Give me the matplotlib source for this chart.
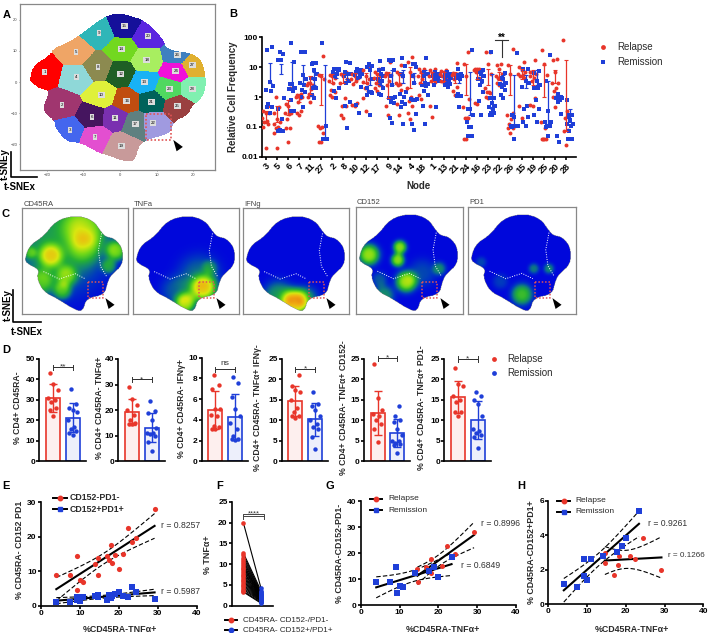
import numpy as np
import matplotlib
matplotlib.use('Agg')
import matplotlib.pyplot as plt
from matplotlib.colors import ListedColormap, LinearSegmentedColormap
from matplotlib.markers import MarkerStyle
from matplotlib.path import Path
from matplotlib.transforms import Affine2D

plt.rcParams['font.family'] = ['Liberation Sans', 'DejaVu Sans']

RED = '#e8352a'
BLUE = '#1f3fd8'
INK = '#2a2a2a'

W, H = 708, 633
fig = plt.figure(figsize=(W/100, H/100), dpi=100)

def ax_px(l, t, r, b):
    return fig.add_axes([l/W, 1-b/H, (r-l)/W, (b-t)/H])

# overlay in pixel coordinates for letters, scale bars, legends
top = fig.add_axes([0, 0, 1, 1], zorder=20)
top.set_xlim(0, W)
top.set_ylim(H, 0)
top.axis('off')

########################## panel A data
node_ids = list(range(1, 29))
node_x = [-20.6, -15.8, -13.7, -11.9, -12.1, -7.7, -6.8, -6.1, -5.7, -5.1, -1.4, 0.2, 6.6, 0.4,
          1.1, 1.8, 4.2, 7.3, 0.4, 7.6, 8.5, 9.0, 13.4, 15.2, 15.7, 15.7, 19.7, 19.7]
node_y = [3.3, -7.4, -15.4, 1.5, 9.5, -11.1, -17.5, 4.8, 15.6, -4.2, -11.5, 2.7, 0.0, 10.5,
          18.0, -6.0, -13.4, 6.9, -20.5, 14.8, -6.3, -13.1, -2.1, 3.4, -7.6, 8.6, 5.4, -2.2]
node_colors = ['#ff0000', '#a0366f', '#4466ee', '#8fd8d8', '#efa566', '#45155f', '#e34fd0',
               '#8c8a50', '#2fb6b8', '#dff03a', '#7a30b0', '#1f5f25', '#18b2f5', '#72d820',
               '#15109a', '#c04d10', '#5f8080', '#a8ee60', '#c89a9a', '#5a25e0', '#00625a',
               '#a09ae0', '#50d860', '#f010d8', '#9a4040', '#3f80c0', '#e0b030', '#80f0b0']
map_outline_x = [-24.7, -23.6, -19.1, -18.2, -13.2, -10.5, -4.5, -0.9, 3.6, 7.3, 11.8, 12.7, 20.5,
                 23.2, 23.5, 21.8, 19.5, 18.6, 14.5, 14.1, 7.3, 5.0, 4.1, 0.9, -3.6, -5.5, -10.9,
                 -14.5, -17.7, -17.7, -20.9, -20.9, -19.1, -21.8, -24.5]
map_outline_y = [1.2, 5.4, 8.6, 10.8, 13.4, 15.6, 20.9, 22.2, 21.1, 19.3, 14.0, 10.2, 9.2,
                 4.9, -2.6, -5.8, -7.9, -10.6, -12.7, -16.4, -18.6, -20.7, -25.5, -25.5, -23.4,
                 -23.0, -19.4, -19.4, -14.8, -12.7, -9.5, -7.4, -2.6, -2.3, 0.1]

########################## panel B data
nodes = [3, 5, 6, 7, 11, 27, 2, 8, 10, 12, 17, 9, 14, 4, 18, 1, 13, 21, 24, 16, 23, 22, 26, 15, 19, 25, 20, 28]
relapse_freq = [
    [.02, .1, .12, .14, .16, .2, .3, .3, .35, .5],
    [.02, .06, .08, .09, .1, .12, .14, .18, .3, .45, 1],
    [.03, .09, .09, .18, .28, .3, .3, .5, .6, 2],
    [.25, .3, .35, .7, .9, 1, 1, 1.1, 1.2, 1.3],
    [.7, 1, 1.2, 1.3, 1.9, 2.5, 2.5, 3, 3, 4.5],
    [.03, .03, .06, .09, .1, .11, 4, 5, 5.5, 24],
    [1, 1.2, 1.5, 1.7, 3, 3.5, 4.5, 5, 5.5, 6],
    [.2, .25, .5, .5, .9, 3, 4, 5, 6, 7],
    [.5, .55, .65, 2.8, 3.5, 4, 4.5, 5, 6, 7],
    [.35, .9, 1.6, 2, 3, 3.2, 4, 5, 8, 11],
    [1.6, 2, 2.5, 3, 4, 4.5, 5, 6, 7, 8.5],
    [.25, .5, .9, 2.5, 3.5, 5, 5.5, 6, 6.5, 15],
    [.25, .6, 1.7, 2.5, 2.8, 2.9, 5, 6, 7, 12],
    [.19, .3, .5, .75, 1, 2, 5, 7, 15, 22],
    [.85, 1.2, 2.6, 3, 4, 5, 6, 7, 9, 9],
    [.22, .5, 3.2, 3.5, 4, 5, 6, 6.5, 8, 9],
    [3, 3.5, 4, 5, 5.5, 6, 6.5, 7, 7.5, 8],
    [1.2, 1.6, 2.2, 4, 5, 5.5, 6, 6, 6.5, 14],
    [.04, .04, .2, .2, .2, .45, .85, 5, 13, 33],
    [.6, .65, 4.5, 7, 7.5, 8, 8, 8.5, 9, 9],
    [.9, 1, 1.4, 1.5, 1.5, 2, 6, 13, 31, 31],
    [2.5, 3, 4, 4.2, 4.5, 5, 6, 8.5, 12, 13],
    [.06, .09, .09, .12, .18, .25, .3, 6, 12, 42],
    [.2, .5, 4.5, 5, 5.5, 6, 7, 8, 10, 15],
    [.5, .55, .9, 3.5, 4.5, 5, 6, 6.5, 7, 18],
    [.04, .04, .04, .04, .09, .15, 5.5, 13, 38],
    [.45, 1, 1.2, 1.6, 2, 3, 3, 7, 17, 19],
    [.025, .07, .08, .2, .35, 80],
]
remission_freq = [
    [.3, .45, .45, .6, 1.6, 1.7, 2.3, 3.3, 38, 46],
    [.07, .07, .07, .08, .18, .4, .9, 17, 18, 28, 31],
    [.35, .35, .35, .8, 1.6, 1.8, 2, 2.8, 2.8, 15, 62],
    [.45, 1, 1.5, 1.7, 2.5, 3, 4, 5.5, 33, 33, 33],
    [.9, 1.2, 2, 2, 4, 4.2, 6, 8, 13, 14, 14],
    [.04, .04, .04, .04, .11, 62],
    [.9, 1.6, 2, 5, 6, 7, 8, 8.5, 9, 9, 9],
    [.09, .5, .7, 3, 3.5, 5, 6, 6, 7, 14, 15],
    [.3, .55, 2.2, 4.5, 5, 5.5, 6, 7, 7, 8, 9],
    [.25, 1.2, 1.4, 1.5, 1.5, 2, 4, 8, 10, 11, 13],
    [1.2, 1.3, 2, 3, 3.5, 4, 5, 6, 8, 9, 16],
    [.13, .2, .65, .7, .9, .9, 1, 2.5, 5, 8, 16, 17, 17],
    [.12, .45, .6, .7, 1, 1.3, 1.5, 5, 6, 11, 21],
    [.08, .12, .27, .8, .8, .85, .85, 3, 5, 10, 13, 13],
    [.12, .5, 1.2, 1.6, 2.3, 2.6, 2.8, 3, 5, 6, 7, 20],
    [.45, 2.5, 3.5, 4, 4.5, 5, 5, 5.5, 6, 6, 7],
    [2.2, 2.5, 2.8, 3, 3.5, 4, 4.5, 5, 5.5, 6, 7],
    [.45, 1.1, 1.1, 1.3, 4, 4.5, 5, 5, 5.5, 6, 9],
    [.05, .05, .05, .1, .1, .15, .25, .4, .4, 37],
    [.25, .75, 1.5, 2.5, 3.5, 4, 5, 6, 7, 8],
    [.25, .25, .3, .3, .4, .45, .5, .65, .9, .9, 31],
    [.9, 1.2, 1.7, 2.2, 2.5, 2.8, 3, 4, 4.5, 6.5],
    [.04, .1, .11, .11, .11, .11, .11, .22, .25, 30],
    [.11, .15, .22, .4, .5, 2.2, 3, 3.5, 8.5, 9],
    [.15, .25, .4, .8, 2, 2, 2.5, 3.5, 6.5, 7.5],
    [.05, .1, .11, .11, .11, .15, .15, .35, 3.5, 25],
    [.03, .05, .28, .7, .8, .9, .9, .9, .9, 1, 1.3],
    [.04, .04, .04, .07, .11, .12, .12, .17, .22, .25, .25, .25, .8],
]
relapse_mean = [.25, .3, .5, 1, 3, 4, 4.5, 4.5, 4.5, 4.5, 4.5, 4.5, 4, 4.5, 4.5, 5, 5, 5, 5.5, 6, 5.5, 5.5, 6, 6, 5, 6, 5.5, 9]
relapse_lo = [.13, .15, .25, .7, 1.3, .55, 3, 3, 3.2, 3, 3, .9, 2.5, 2, 3, 3.5, 3.5, 3, 1.2, 4, 2.5, 3.8, 1.2, 4, 2.5, 1, 3, .07]
relapse_hi = [.35, .5, .8, 1.3, 5, 6, 6, 6, 6.5, 6.5, 6.5, 7, 6.5, 10, 6.5, 7, 7, 7, 13, 8, 9, 7, 12, 9, 8, 12, 8, 18]
remission_mean = [9, 10, 9, 8, 4, 6, 6, 5.5, 6, 5, 4, 5, 5, 4.5, 5, 5, 4.5, 4.5, 3.5, 5, 3.5, 4, 3, 3, 3.5, 1, 1, .25]
remission_lo = [3, 6, 2, 3, 2.5, .04, 4.5, 4, 4.5, 2.5, 2.5, 2.5, 3, 3, 3, 4, 3.5, 3, .25, 3, .4, 2.5, .1, 2, 2.5, .1, .8, .15]
remission_hi = [14, 13, 15, 12, 7, 12, 9, 7, 8, 11, 6, 8, 8, 6.5, 8, 6.5, 6, 6.5, 7, 7, 6, 5.5, 5.5, 5.5, 8, 3.4, 1.2, .4]

########################## panel C data, hot spots as x, y, width, level
map2_x = [2.5, 7.2, 19.8, 32.4, 51.3, 67, 74.8, 79, 87.4, 95.3, 95.3, 84.3, 81.1, 78, 60.7, 57.5,
          49.7, 32.4, 19.8, 13.5, 16.7, 4.1]
map2_y = [52.5, 65.1, 73, 88.7, 93.4, 88.7, 77.7, 73, 71.4, 62, 46.2, 36.8, 30.5, 17.9, 14.8, 2.2,
          3.8, 14.8, 21.1, 35.2, 41.5, 47.8]
gap1_x = [75, 72, 74, 80]
gap1_y = [76, 60, 45, 35]
gap2_x = [20, 35, 50, 60]
gap2_y = [40, 33, 38, 33]
marker_names = ['CD45RA', 'TNFa', 'IFNg', 'CD152', 'PD1']
cd45ra_spots = [(35, 68, 32, .36), (60, 82, 15, .36), (27, 55, 8, .42), (89, 60, 7, .5), (18, 30, 9, .34),
                (42, 36, 7, .34), (60, 62, 11, .2), (82, 45, 5, .3), (8, 58, 4, .22), (38, 22, 6, .36)]
tnfa_spots = [(66, 24, 9, .62), (49, 10, 7, .6), (62, 36, 14, .22), (40, 22, 10, .18), (72, 44, 5, .18)]
ifng_spots = [(49, 11, 9, .74), (33, 17, 10, .32), (60, 15, 8, .22)]
cd152_spots = [(12, 55, 7, .6), (41, 62, 4.5, .58), (39, 50, 4.5, .58), (47, 30, 7, .62), (26, 17, 7, .3),
               (78, 42, 4.5, .28), (62, 38, 9, .15), (22, 32, 5, .18)]
pd1_spots = [(50, 18, 7, .45), (61, 42, 3.5, .25), (75, 42, 3.5, .28), (30, 30, 5, .13), (12, 48, 3.5, .15)]
all_spots = [cd45ra_spots, tnfa_spots, ifng_spots, cd152_spots, pd1_spots]
heat_colors = ['#0000e0', '#0038c0', '#10807a', '#25b035', '#70d818', '#d8e810', '#f0b010', '#e87010']

########################## panel D data
d_labels = ['% CD4+ CD45RA-', '% CD4+ CD45RA- TNF\u03b1+', '% CD4+ CD45RA- IFN\u03b3+',
            '% CD4+ CD45RA- TNF\u03b1+ IFN\u03b3-', '% CD4+ CD45RA- TNF\u03b1+ CD152-',
            '% CD4+ CD45RA- TNF\u03b1+ PD1-']
d_relapse = [[22, 25, 26, 29, 30, 31, 35, 38, 43],
             [14.5, 14.5, 15, 16, 18, 20, 22, 24.5, 29],
             [3.1, 3.1, 3.3, 3.4, 4.4, 4.5, 5, 5, 7, 7.4, 8.3],
             [10.5, 11, 11, 12, 13, 15, 17, 17.5, 18.5, 21],
             [4.7, 8, 9, 10, 11, 11.5, 12.5, 15.5, 23.7],
             [11, 12, 12, 14.5, 15, 16, 18.5, 19, 22.8]]
d_remission = [[13, 14, 15, 16, 17, 20, 24, 25, 26, 28, 35.5],
               [4, 7.5, 10, 10.5, 11, 11, 13, 16, 19, 19.5, 23.5],
               [2.1, 2.2, 2.2, 2.4, 3.1, 3.7, 4.4, 5, 6.2, 7.6, 8.1],
               [3, 6, 8, 8.5, 9, 10, 11, 12.5, 13.5, 14, 17],
               [2, 4, 4.2, 4.5, 5, 5, 6.5, 8, 9.5, 10, 11, 13.5],
               [3.3, 6, 6.5, 7, 7.5, 8, 11, 14, 15, 16, 17]]
d_ymax = [50, 40, 10, 25, 25, 25]
d_yticks = [10, 10, 2, 5, 5, 5]
d_sig = ['**', '*', 'ns', '*', '*', '*']
d_sig_y = [46, 32, 8.9, 22.5, 25.2, 25]

########################## panels E to H data
tnf_relapse = [14.7, 14.6, 16.9, 18.0, 18.2, 21.0, 22.3, 24.4, 29.2]
tnf_remission = [4.0, 7.5, 9.2, 9.3, 10.0, 10.9, 14.0, 17.6, 19.0, 20.0, 23.4]
pd1neg_relapse = [8.9, 13.8, 14.5, 17.7, 12.5, 15.1, 22.6, 19.6, 28.0]
pd1neg_remission = [9.0, 9.0, 14.5, 4.7, 7.5, 6.9, 12.2, 13.2, 14.8, 10.7, 18.6]
pd1pos_relapse = [3.0, 2.4, 1.7, 2.25, 2.8, 2.8, 2.6, 3.85, 2.0]
pd1pos_remission = [1.2, 1.0, 2.6, 1.65, 1.4, 2.65, 2.8, 3.05, 3.35, 3.85, 5.4]

f_before = [20, 12.7, 12.2, 11.6, 11, 10.5, 10, 9.6, 9.2, 8.8, 8.3, 8, 7.5, 7.1, 6.7, 6.3, 5.9, 5.5, 5.1, 4.7, 4.3, 3.9, 3.5, 3.3]
f_after = [4.2, 3.6, 3.2, 3, 2.8, 2.7, 2.5, 2.4, 2.3, 2.2, 2.1, 2, 1.9, 1.8, 1.7, 1.6, 1.5, 1.4, 1.3, 1.2, 1.1, 1, .8, .6]

########################## drawing helpers
def style_axis(ax, size=6, lw=1.2):
    for s in ['top', 'right']:
        ax.spines[s].set_visible(False)
    for s in ['left', 'bottom']:
        ax.spines[s].set_linewidth(lw)
    ax.tick_params(width=lw, length=2, labelsize=size, pad=1)
    for t in ax.get_xticklabels() + ax.get_yticklabels():
        t.set_fontweight('bold')
    ax.patch.set_alpha(0)

def rounded(xs, ys, rounds=2):
    # corner cutting so the outline looks like a cloud of cells, not a polygon
    pts = np.column_stack([xs, ys])
    for _ in range(rounds):
        nxt = np.roll(pts, -1, axis=0)
        pts = np.column_stack([0.75*pts + 0.25*nxt, 0.25*pts + 0.75*nxt]).reshape(-1, 2)
    return pts

def fit_band(ax, x, y, t_val, lw=1.5):
    x = np.array(x)
    y = np.array(y)
    p = np.polyfit(x, y, 1)
    xs = np.linspace(x.min(), x.max(), 40)
    ys = np.polyval(p, xs)
    n = len(x)
    s = np.sqrt(((y - np.polyval(p, x))**2).sum()/(n - 2))
    se = s*np.sqrt(1/n + (xs - x.mean())**2/((x - x.mean())**2).sum())
    ax.plot(xs, ys, 'k', lw=lw, zorder=3)
    ax.plot(xs, ys + t_val*se, 'k--', lw=0.8, dashes=(4, 2), zorder=3)
    ax.plot(xs, ys - t_val*se, 'k--', lw=0.8, dashes=(4, 2), zorder=3)

def line_legend(x0, x1, xt, y, color, marker, label, bold=False, size=6):
    top.plot([x0, x1], [y, y], 'k', lw=1.4)
    top.plot([(x0 + x1)/2], [y], marker, color=color, ms=3.2)
    top.text(xt, y, label, va='center', fontsize=size, fontweight='bold' if bold else 'normal', color=INK)

def swarm(values, spread):
    pattern = [0, -1, 1, -.5, .5, -1.4, 1.4]
    return [spread*pattern[i % 7] for i in range(len(values))]

def arrow_marker():
    return MarkerStyle('^', transform=Affine2D().scale(0.85, 1.25).rotate_deg(35))

########################## A
ax = ax_px(20, 4, 215, 170)
xlim = (-27.3, 25.9)
ylim = (-28.2, 25)
gx, gy = np.meshgrid(np.linspace(xlim[0], xlim[1], 500), np.linspace(ylim[0], ylim[1], 500))
nx = np.array(node_x)
ny = np.array(node_y)
dist = (gx[..., None] - nx)**2 + (gy[..., None] - ny)**2
cell = dist.argmin(axis=2).astype(float)
shape = Path(rounded(map_outline_x, map_outline_y))
inside = shape.contains_points(np.column_stack([gx.ravel(), gy.ravel()])).reshape(gx.shape)
cell[~inside] = np.nan
ax.imshow(cell, origin='lower', extent=[xlim[0], xlim[1], ylim[0], ylim[1]], aspect='auto',
          cmap=ListedColormap(node_colors), vmin=-0.5, vmax=27.5, interpolation='nearest')
for i, n in enumerate(node_ids):
    ax.text(node_x[i], node_y[i], str(n), fontsize=3.2, ha='center', va='center',
            bbox=dict(fc='#dddddd', ec='none', pad=0.7))
ax.set_xlim(xlim)
ax.set_ylim(ylim)
ax.set_xticks([-20, -10, 0, 10, 20])
ax.set_yticks([-20, -10, 0, 10, 20])
ax.tick_params(labelsize=3, length=1, width=0.4, pad=1, colors='#444444')
for s in ax.spines.values():
    s.set_color('#888888')
    s.set_linewidth(0.9)
ax.plot([7, 13.9, 13.9, 7, 7], [-10.3, -10.3, -18.6, -18.6, -10.3], color='#e05555', lw=1.2, ls=(0, (1, 1.2)))
ax.scatter([15.3], [-20], marker=arrow_marker(), s=42, c='k', zorder=5, linewidths=0)

########################## B
ax = ax_px(262, 37.3, 575.7, 156.7)
ax.set_yscale('log')
pos = np.arange(len(nodes))
for i in pos:
    ax.scatter(i + np.array(swarm(relapse_freq[i], .2)), relapse_freq[i], s=8, c=RED, marker='o', linewidths=0, zorder=3)
    ax.scatter(i + .36 + np.array(swarm(remission_freq[i], .2)), remission_freq[i], s=8, c=BLUE, marker='s', linewidths=0, zorder=3)
ax.errorbar(pos, relapse_mean,
            yerr=[np.array(relapse_mean) - np.array(relapse_lo), np.array(relapse_hi) - np.array(relapse_mean)],
            fmt='none', ecolor=RED, elinewidth=0.9, capsize=1.2, capthick=0.8, zorder=4)
ax.errorbar(pos + .36, remission_mean,
            yerr=[np.array(remission_mean) - np.array(remission_lo), np.array(remission_hi) - np.array(remission_mean)],
            fmt='none', ecolor=BLUE, elinewidth=0.9, capsize=1.2, capthick=0.8, zorder=4)
ax.set_xlim(-0.32, 27.87)
ax.set_ylim(0.01, 100)
ax.set_yticks([0.01, 0.1, 1, 10, 100])
ax.set_yticklabels(['0.01', '0.1', '1', '10', '100'])
ax.minorticks_off()
ax.set_xticks(pos)
ax.set_xticklabels(nodes, rotation=45, ha='right', rotation_mode='anchor')
style_axis(ax, size=6)
ax.tick_params(axis='x', labelsize=6.6, pad=1.5)
ax.set_ylabel('Relative Cell Frequency', fontsize=7, fontweight='bold', labelpad=2, color=INK)
ax.set_xlabel('Node', fontsize=7, fontweight='bold', labelpad=4, color=INK)
top.plot([495, 508], [40, 40], color='#333333', lw=0.8)
top.plot([502, 502], [40, 57], color='#333333', lw=0.8)
top.text(502, 38, '**', ha='center', va='center', fontsize=7, fontweight='bold')
top.scatter([603], [47], s=12, c=RED, marker='o', linewidths=0)
top.scatter([603], [62], s=12, c=BLUE, marker='s', linewidths=0)
top.text(617, 47, 'Relapse', va='center', fontsize=7, color=INK)
top.text(617, 62, 'Remission', va='center', fontsize=7, color=INK)

########################## C
heat_cmap = LinearSegmentedColormap.from_list('heat', heat_colors)
frames = [(22.3, 208, 128, 314), (133, 208, 239, 314), (243, 208, 349, 314), (356, 207, 463, 314), (468, 207, 576, 314)]
hx, hy = np.meshgrid(np.linspace(0, 100, 220), np.linspace(0, 100, 220))
shape2 = Path(rounded(map2_x, map2_y))
inside2 = shape2.contains_points(np.column_stack([hx.ravel(), hy.ravel()])).reshape(hx.shape)
for i, fr in enumerate(frames):
    ax = ax_px(*fr)
    val = np.full(hx.shape, 0.02)
    for sx, sy, sw, lev in all_spots[i]:
        r2 = ((hx - sx)**2 + (hy - sy)**2)/(2*sw**2)
        val = val + lev*np.exp(-r2**1.5)
    val[~inside2] = np.nan
    ax.imshow(val, origin='lower', extent=[0, 100, 0, 100], cmap=heat_cmap, vmin=0, vmax=1, aspect='auto')
    ax.plot(gap1_x, gap1_y, color='white', lw=0.7, ls=(0, (1, 1.5)))
    ax.plot(gap2_x, gap2_y, color='white', lw=0.7, ls=(0, (1, 1.5)))
    ax.plot([62, 76, 76, 62, 62], [30, 30, 15, 15, 30], color='#e05555', lw=1.1, ls=(0, (1, 1.2)))
    ax.scatter([81], [11], marker=arrow_marker(), s=38, c='k', linewidths=0, zorder=5)
    ax.set_xlim(0, 100)
    ax.set_ylim(0, 100)
    ax.set_xticks([])
    ax.set_yticks([])
    for s in ax.spines.values():
        s.set_color('#888888')
        s.set_linewidth(0.9)
    top.text(fr[0] + 1, fr[1] - 0.5, marker_names[i], fontsize=5.5, va='bottom', color='#444444')

########################## D
d_boxes = [(39.3, 359, 86, 461.3), (118.3, 359, 165, 461.3), (201.7, 357.7, 248, 461.3),
           (281.7, 359, 328, 461.3), (364, 359, 410, 461.3), (444.3, 359, 490.7, 461.3)]
d_label_x = [18, 100, 181.7, 258, 343, 421.7]
for i, box in enumerate(d_boxes):
    ax = ax_px(*box)
    for k, (vals, col) in enumerate([(d_relapse[i], RED), (d_remission[i], BLUE)]):
        m = np.mean(vals)
        sd = np.std(vals, ddof=1)
        ax.bar(k, m, width=0.72, fc=col, alpha=0.08, zorder=1)
        ax.bar(k, m, width=0.72, fc='none', ec=col, lw=1.2, zorder=2)
        ax.errorbar(k, m, yerr=sd, color=col, elinewidth=1.0, capsize=3.2, capthick=1.0, zorder=3)
        ax.scatter(k + np.array(swarm(vals, .17)), vals, s=10, c=col, linewidths=0, zorder=4, clip_on=False)
    s = d_sig_y[i]
    tick = d_ymax[i]*0.025
    ax.plot([0, 0, 1, 1], [s - tick, s, s, s - tick], color='#333333', lw=0.7, clip_on=False)
    ax.plot([0, 0, 1, 1], [s + tick, s, s, s + tick], color='#333333', lw=0.7, clip_on=False)
    ax.text(0.5, s + d_ymax[i]*(0.0 if d_sig[i] != 'ns' else 0.025), d_sig[i], ha='center', va='bottom' if d_sig[i] == 'ns' else 'center',
            fontsize=6, color='#333333', clip_on=False)
    ax.set_xlim(-0.7, 1.67)
    ax.set_ylim(0, d_ymax[i])
    ax.set_yticks(np.arange(0, d_ymax[i] + 1, d_yticks[i]))
    ax.set_xticks([])
    style_axis(ax, size=6)
    top.text(d_label_x[i], 408, d_labels[i], rotation=90, ha='center', va='center', fontsize=6.2, fontweight='bold', color=INK)
top.scatter([494], [359], s=12, c=RED, linewidths=0)
top.scatter([494], [373], s=12, c=BLUE, linewidths=0)
top.text(507, 359, 'Relapse', va='center', fontsize=7, color=INK)
top.text(507, 373, 'Remission', va='center', fontsize=7, color=INK)

########################## E
ax = ax_px(40.7, 502.3, 196.7, 605.7)
x_all = tnf_relapse + tnf_remission
fit_band(ax, x_all, pd1neg_relapse + pd1neg_remission, 2.1)
fit_band(ax, x_all, pd1pos_relapse + pd1pos_remission, 2.1)
ax.scatter(x_all, pd1neg_relapse + pd1neg_remission, s=14, c=RED, linewidths=0, zorder=4)
ax.scatter(x_all, pd1pos_relapse + pd1pos_remission, s=14, c=BLUE, marker='s', linewidths=0, zorder=4, clip_on=False)
ax.set_xlim(0, 40)
ax.set_ylim(0, 30)
ax.set_xticks([0, 10, 20, 30, 40])
ax.set_yticks([0, 10, 20, 30])
style_axis(ax)
top.text(20, 550, '% CD45RA- CD152 PD1', rotation=90, ha='center', va='center', fontsize=6.4, fontweight='bold', color=INK)
top.text(120, 629, '%CD45RA-TNF\u03b1+', ha='center', va='center', fontsize=6.4, fontweight='bold', color=INK)
top.text(161, 525, 'r = 0.8257', va='center', fontsize=6.2, color='#333333')
top.text(161, 592, 'r = 0.5987', va='center', fontsize=6.2, color='#333333')
line_legend(53, 67, 70, 498, RED, 'o', 'CD152-PD1-', bold=True, size=6.3)
line_legend(53, 67, 70, 509.3, BLUE, 's', 'CD152+PD1+', bold=True, size=6.3)

########################## F
ax = ax_px(231.7, 502, 272.7, 605.7)
for a, b in zip(f_before, f_after):
    ax.plot([0, 1], [a, b], 'k', lw=0.8, zorder=2)
ax.scatter([0]*len(f_before), f_before, s=11, c=RED, linewidths=0, zorder=3)
ax.scatter([1]*len(f_after), f_after, s=11, c=BLUE, linewidths=0, zorder=3)
ax.plot([0, 0, 1.15, 1.15], [21, 22.2, 22.2, 21], color='#444444', lw=0.7)
ax.plot([0, 1.15], [21.6, 21.6], color='#444444', lw=0.7)
ax.text(0.57, 22.1, '****', ha='center', va='center', fontsize=5.5, color='#333333')
ax.set_xlim(-0.66, 1.66)
ax.set_ylim(0, 25)
ax.set_xticks([])
ax.set_yticks([0, 5, 10, 15, 20, 25])
style_axis(ax)
top.text(208, 555, '% TNF\u03b1+', rotation=90, ha='center', va='center', fontsize=6.4, fontweight='bold', color=INK)
line_legend(225, 237, 243, 620, RED, 'o', 'CD45RA- CD152-/PD1-', size=5.9)
line_legend(225, 237, 243, 630, BLUE, 'o', 'CD45RA- CD152+/PD1+', size=5.9)

########################## G
ax = ax_px(360.7, 501, 516, 605)
fit_band(ax, tnf_relapse, pd1neg_relapse, 2.36)
fit_band(ax, tnf_remission, pd1neg_remission, 2.26)
ax.scatter(tnf_relapse, pd1neg_relapse, s=13, c=RED, linewidths=0, zorder=4)
ax.scatter(tnf_remission, pd1neg_remission, s=14, c=BLUE, marker='s', linewidths=0, zorder=4)
ax.set_xlim(0, 40)
ax.set_ylim(0, 40)
ax.set_xticks([0, 10, 20, 30, 40])
ax.set_yticks([0, 10, 20, 30, 40])
style_axis(ax)
top.text(340, 553, '% CD45RA-CD152-PD1-', rotation=90, ha='center', va='center', fontsize=6.4, fontweight='bold', color=INK)
top.text(443, 629, '%CD45RA-TNF\u03b1+', ha='center', va='center', fontsize=6.4, fontweight='bold', color=INK)
top.text(480.7, 523, 'r = 0.8996', va='center', fontsize=6.2, color='#333333')
top.text(461, 566, 'r = 0.6849', va='center', fontsize=6.2, color='#333333')
line_legend(370, 382, 388, 499, RED, 'o', 'Relapse')
line_legend(370, 382, 388, 510, BLUE, 's', 'Remission')

########################## H
ax = ax_px(548.3, 500.7, 703.3, 604.3)
fit_band(ax, tnf_relapse, pd1pos_relapse, 2.36)
fit_band(ax, tnf_remission, pd1pos_remission, 2.26)
ax.scatter(tnf_relapse, pd1pos_relapse, s=13, c=RED, linewidths=0, zorder=4)
ax.scatter(tnf_remission, pd1pos_remission, s=14, c=BLUE, marker='s', linewidths=0, zorder=4)
ax.set_xlim(0, 40)
ax.set_ylim(0, 6)
ax.set_xticks([0, 10, 20, 30, 40])
ax.set_yticks([0, 2, 4, 6])
style_axis(ax)
top.text(531.7, 552, '% CD45RA-CD152+PD1+', rotation=90, ha='center', va='center', fontsize=6.4, fontweight='bold', color=INK)
top.text(632, 629, '%CD45RA-TNF\u03b1+', ha='center', va='center', fontsize=6.4, fontweight='bold', color=INK)
top.text(647.7, 523, 'r = 0.9261', va='center', fontsize=6.2, color='#333333')
top.text(668, 555.7, 'r = 0.1266', va='center', fontsize=5.9, color='#333333')
line_legend(557, 570, 575, 500.7, RED, 'o', 'Relapse')
line_legend(557, 570, 575, 511.7, BLUE, 's', 'Remission')

########################## letters and t-SNE scale bars
for letter, lx, ly in [('A', 3, 15), ('B', 229, 14), ('C', 1, 214), ('D', 2, 350), ('E', 2, 486),
                       ('F', 216, 486), ('G', 325, 486), ('H', 517, 486)]:
    top.text(lx, ly, letter, fontsize=8, fontweight='bold', va='center')
top.plot([10.7, 10.7, 37], [152, 177, 177], 'k', lw=1.2)
top.text(5, 164, 't-SNEy', rotation=90, ha='center', va='center', fontsize=7, fontweight='bold')
top.text(20, 187, 't-SNEx', ha='center', va='center', fontsize=7, fontweight='bold')
top.plot([13.3, 13.3, 40.7], [290, 321.7, 321.7], 'k', lw=1.2)
top.text(8, 305, 't-SNEy', rotation=90, ha='center', va='center', fontsize=7, fontweight='bold')
top.text(27, 332, 't-SNEx', ha='center', va='center', fontsize=7, fontweight='bold')

fig.savefig('out.png', dpi=100)
